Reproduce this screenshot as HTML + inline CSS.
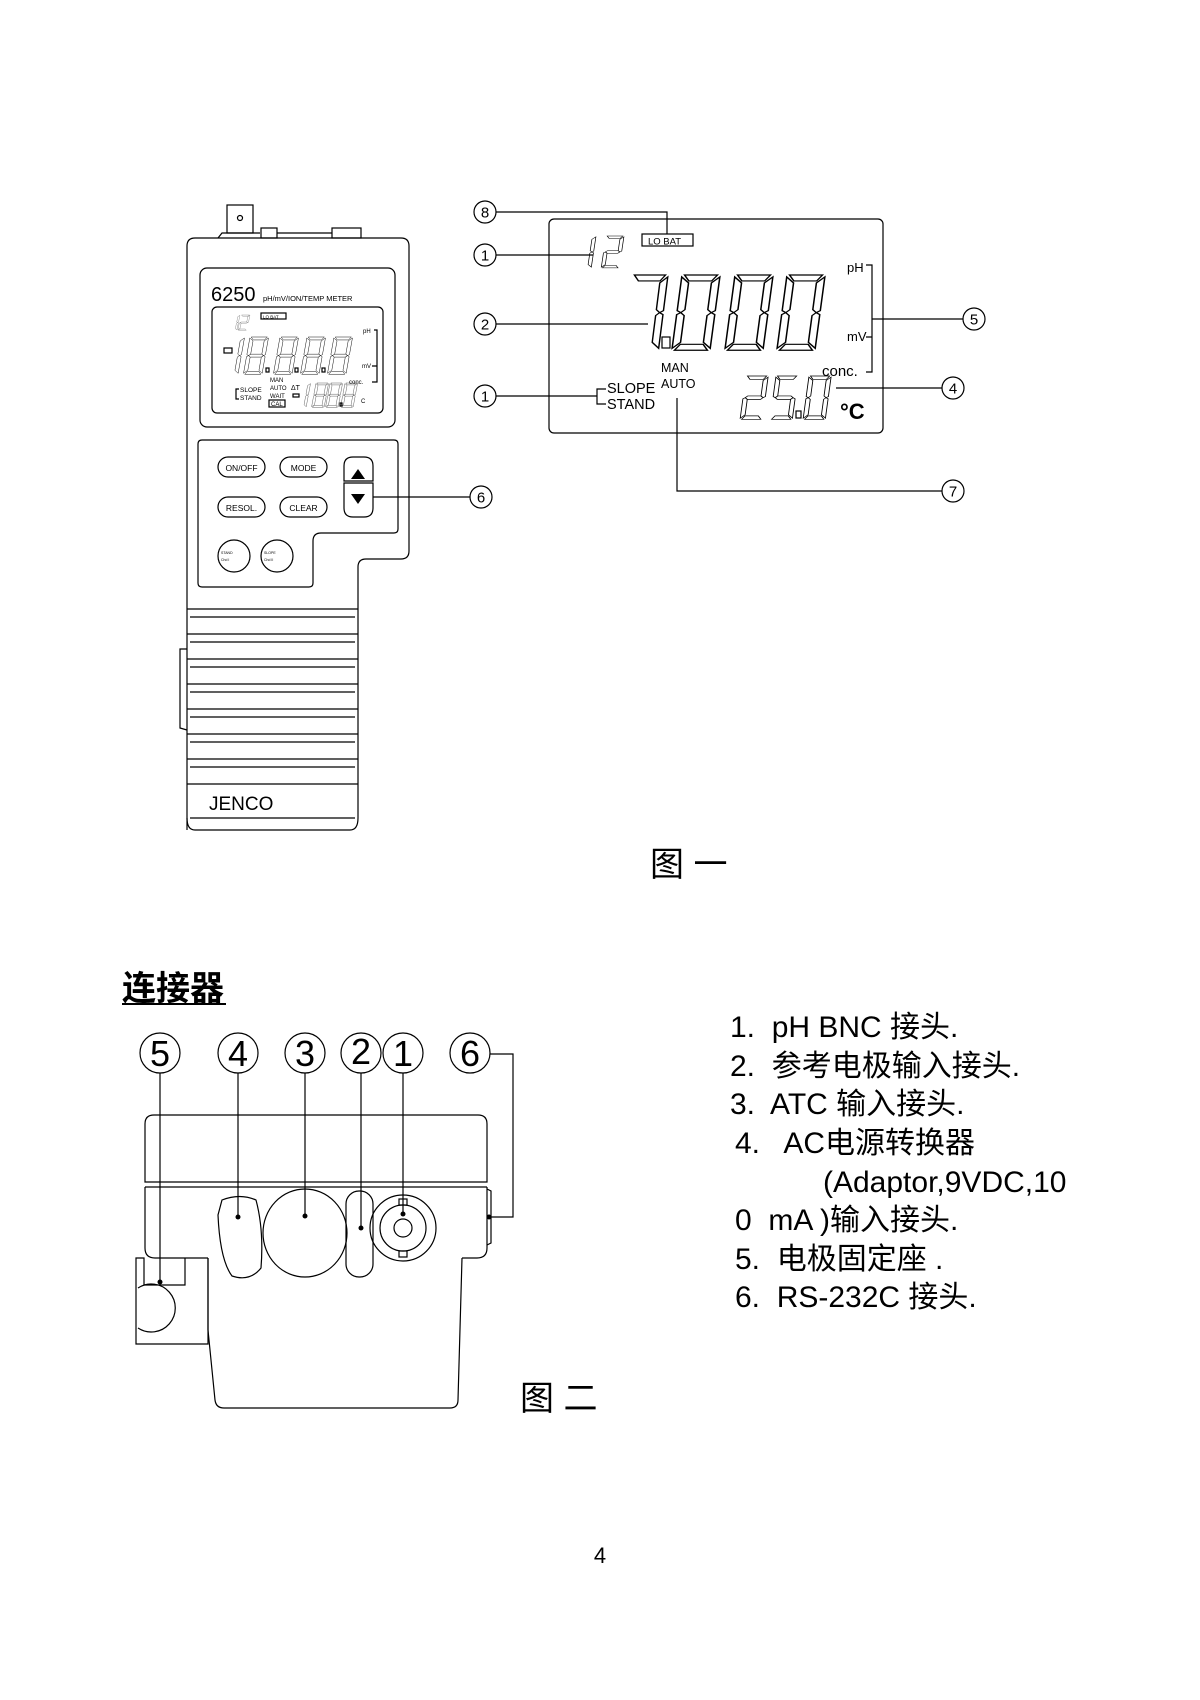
<!DOCTYPE html>
<html><head><meta charset="utf-8"><style>
html,body{margin:0;padding:0;background:#fff}
svg{display:block}
text{font-family:"Liberation Sans","Noto Sans CJK SC",sans-serif;fill:#000}
</style></head><body>
<svg width="1200" height="1700" viewBox="0 0 1200 1700" xmlns="http://www.w3.org/2000/svg">
<defs>
<g id="sa"><polygon points="2,0 28,0 24,6 6,6"/></g>
<g id="sb"><polygon points="30,2 30,36 27,38 24,35 24,8"/></g>
<g id="sc"><polygon points="30,40 30,74 24,68 24,41 27,38"/></g>
<g id="sd"><polygon points="6,70 24,70 28,76 2,76"/></g>
<g id="se"><polygon points="0,40 3,38 6,41 6,68 0,74"/></g>
<g id="sf"><polygon points="0,2 6,8 6,35 3,38 0,36"/></g>
<g id="sg"><polygon points="6,35 24,35 27,38 24,41 6,41 3,38"/></g>
<g id="D0"><use href="#sa"/><use href="#sb"/><use href="#sc"/><use href="#sd"/><use href="#se"/><use href="#sf"/></g>
<g id="D1"><use href="#sb"/><use href="#sc"/></g>
<g id="D2"><use href="#sa"/><use href="#sb"/><use href="#sg"/><use href="#se"/><use href="#sd"/></g>
<g id="D5"><use href="#sa"/><use href="#sf"/><use href="#sg"/><use href="#sc"/><use href="#sd"/></g>
<g id="D7"><use href="#sa"/><use href="#sb"/><use href="#sc"/></g>
<g id="D8"><use href="#D0"/><use href="#sg"/></g>
</defs>

<g fill="none" stroke="#000" stroke-width="1.2">
<!-- DEVICE fig 1 -->
<rect x="227" y="205" width="26" height="28"/>
<circle cx="240" cy="218" r="2.5"/>
<path d="M218,238 L222,233 L260,233"/>
<rect x="261" y="228" width="16" height="10"/>
<path d="M277,233 L332,233"/>
<rect x="332" y="228" width="29" height="10"/>
<path d="M187,830 L187,246 Q187,238 195,238 L401,238 Q409,238 409,246 L409,551 Q409,559 401,559 L366,559 Q358,559 358,567 L358,609"/>
<rect x="200" y="268" width="195" height="159" rx="7"/>
<rect x="212" y="307" width="171" height="106" rx="5"/>
<path d="M198,444 Q198,440 202,440 L394,440 Q398,440 398,444 L398,529 Q398,533 394,533 L321,533 Q313,533 313,541 L313,583 Q313,587 309,587 L202,587 Q198,587 198,583 Z"/>
<rect x="218" y="457" width="47" height="20" rx="10"/>
<rect x="280" y="457" width="47" height="20" rx="10"/>
<rect x="218" y="497" width="47" height="20" rx="10"/>
<rect x="280" y="497" width="47" height="20" rx="10"/>
<path d="M344,481 L344,466 Q344,457 353,457 L364,457 Q373,457 373,466 L373,481 Z"/>
<path d="M344,483 L373,483 L373,508 Q373,517 364,517 L353,517 Q344,517 344,508 Z"/>
<circle cx="234" cy="556" r="16"/>
<circle cx="277" cy="556" r="16"/>
<!-- ribs -->
<path d="M187,609 L358,609 M190,617 L355,617 M187,634 L358,634 M190,642 L355,642 M187,659 L358,659 M190,667 L355,667 M187,684 L358,684 M190,692 L355,692 M187,709 L358,709 M190,717 L355,717 M187,734 L358,734 M190,742 L355,742 M187,759 L358,759 M190,767 L355,767 M187,784 L358,784 M190,818 L355,818"/>
<path d="M358,609 L358,818 Q358,830 350,830 L195,830 Q187,830 187,818"/>
<path d="M187,649 L180,649 L180,728 L187,730"/>
<!-- lcd small -->
<rect x="261" y="313" width="25" height="6"/>
<rect x="269" y="400" width="16" height="7"/>
<path d="M374,330 L377,330 L377,382 L372,382 M372,366 L377,366 M239,389 L236,389 L236,399 L239,399"/>
<rect x="224" y="348" width="8" height="5"/>
<rect x="293" y="394" width="6" height="3"/>
<g stroke-width="0.8">
<g transform="translate(231,315) scale(0.3,0.2) skewX(-8)"><use href="#D1"/></g>
<g transform="translate(241,315) scale(0.3,0.2) skewX(-8)"><use href="#D2"/></g>
<g transform="translate(226,337) scale(0.62,0.49) skewX(-8)"><use href="#D1"/></g>
<g transform="translate(250,337) scale(0.62,0.49) skewX(-8)"><use href="#D8"/></g>
<g transform="translate(280,337) scale(0.62,0.49) skewX(-8)"><use href="#D8"/></g>
<g transform="translate(307,337) scale(0.62,0.49) skewX(-8)"><use href="#D8"/></g>
<g transform="translate(334,337) scale(0.62,0.49) skewX(-8)"><use href="#D8"/></g>
<g transform="translate(298,383) scale(0.42,0.32) skewX(-8)"><use href="#D1"/></g>
<g transform="translate(316,383) scale(0.42,0.32) skewX(-8)"><use href="#D8"/></g>
<g transform="translate(330,383) scale(0.42,0.32) skewX(-8)"><use href="#D8"/></g>
<g transform="translate(345,383) scale(0.42,0.32) skewX(-8)"><use href="#D8"/></g>
</g>
<rect x="266" y="368" width="3" height="4"/><rect x="295" y="368" width="3" height="4"/><rect x="322" y="368" width="3" height="4"/><rect x="340" y="403" width="2" height="3"/>
<!-- connector line 6 -->
<path d="M373,497 L470,497"/>
<circle cx="481" cy="497" r="11"/>

<!-- RIGHT LCD -->
<rect x="549" y="219" width="334" height="214" rx="5"/>
<rect x="642" y="234" width="51" height="12"/>
<path d="M496,212 L667,212 L667,234"/>
<path d="M496,255 L593,255"/>
<path d="M496,324 L648,324"/>
<path d="M496,396 L597,396 M606,389 L597,389 L597,404 L606,404"/>
<path d="M866,265 L872,265 L872,372 L866,372 M866,337 L872,337 M872,319 L963,319"/>
<path d="M836,388 L942,388"/>
<path d="M677,398 L677,491 L942,491"/>
<circle cx="485" cy="212" r="11"/>
<circle cx="485" cy="255" r="11"/>
<circle cx="485" cy="324" r="11"/>
<circle cx="485" cy="396" r="11"/>
<circle cx="974" cy="319" r="11"/>
<circle cx="953" cy="388" r="11"/>
<circle cx="953" cy="491" r="11"/>
<g>
<g transform="translate(578,236) scale(0.6,0.42) skewX(-6)"><use href="#D1"/></g>
<g transform="translate(606,236) scale(0.6,0.42) skewX(-6)"><use href="#D2"/></g>
<g transform="translate(632,275) scale(1.2,0.99) skewX(-6)"><use href="#D7"/></g>
<g transform="translate(682,275) scale(1.27,0.99) skewX(-6)"><use href="#D0"/></g>
<g transform="translate(735,275) scale(1.27,0.99) skewX(-6)"><use href="#D0"/></g>
<g transform="translate(787,275) scale(1.27,0.99) skewX(-6)"><use href="#D0"/></g>
<g transform="translate(746,376) scale(0.74,0.57) skewX(-6)"><use href="#D2"/></g>
<g transform="translate(776,376) scale(0.74,0.57) skewX(-6)"><use href="#D5"/></g>
<g transform="translate(809,376) scale(0.74,0.57) skewX(-6)"><use href="#D0"/></g>
</g>
<rect x="662" y="337" width="8" height="11"/>
<rect x="796" y="411" width="5" height="7"/>

<!-- FIG 2 -->
<path d="M145,1182 L145,1124 Q145,1115 154,1115 L478,1115 Q487,1115 487,1124 L487,1182 Z"/>
<path d="M145,1187 L487,1187"/>
<path d="M145,1187 L145,1248 Q145,1258 155,1258 L208,1258 M487,1187 L487,1248 Q487,1258 477,1258 L462,1258"/>
<path d="M208,1258 L208,1330 L215,1400 Q216,1408 224,1408 L450,1408 Q458,1408 458,1400 L462,1258"/>
<path d="M487,1189 L491,1191 L491,1243 L487,1245"/>
<path d="M208,1258 L208,1344 L136,1344 L136,1258 L144,1258 L144,1285 L185,1285 L185,1258"/>
<path d="M138,1288 A24,24 0 1 1 138,1328"/>
<path d="M222,1200 Q240,1193 256,1200 Q264,1230 261,1268 Q250,1282 232,1276 Q220,1260 218,1215 Z"/>
<ellipse cx="305" cy="1233" rx="42" ry="44"/>
<rect x="346" y="1191" width="27" height="86" rx="13"/>
<circle cx="403" cy="1228" r="33"/>
<circle cx="403" cy="1228" r="23"/>
<circle cx="403" cy="1228" r="9"/>
<rect x="399" y="1199" width="8" height="6"/>
<rect x="399" y="1251" width="8" height="6"/>
<path d="M160,1073 L160,1282 M238,1073 L238,1217 M305,1073 L305,1216 M361,1073 L361,1228 M403,1073 L403,1214 M490,1054 L513,1054 L513,1217 L489,1217"/>
<circle cx="160" cy="1053" r="20"/>
<circle cx="238" cy="1053" r="20"/>
<circle cx="305" cy="1053" r="20"/>
<circle cx="361" cy="1053" r="20"/>
<circle cx="403" cy="1053" r="20"/>
<circle cx="470" cy="1053" r="20"/>
<path d="M122,1004 L226,1004" stroke-width="2"/>
</g>
<g fill="#000">
<circle cx="160" cy="1282" r="2.5"/><circle cx="238" cy="1217" r="2.5"/><circle cx="305" cy="1216" r="2.5"/><circle cx="361" cy="1228" r="2.5"/><circle cx="403" cy="1214" r="2.5"/><circle cx="489" cy="1217" r="2.5"/>
<path d="M351,479 L358,469 L365,479 Z"/><path d="M351,494 L365,494 L358,504 Z"/>
</g>

<!-- texts fig 1 device -->
<text x="211" y="301" font-size="20">6250</text>
<text x="263" y="301" font-size="7.5">pH/mV/ION/TEMP METER</text>
<text x="263" y="318.5" font-size="4.5">LO BAT</text>
<text x="363" y="333" font-size="6">pH</text>
<text x="362" y="368" font-size="6">mV</text>
<text x="349" y="384" font-size="6">conc.</text>
<text x="240" y="392" font-size="6.5">SLOPE</text>
<text x="240" y="400" font-size="6.5">STAND</text>
<text x="270" y="382" font-size="6">MAN</text>
<text x="270" y="390" font-size="6">AUTO</text>
<text x="270" y="398" font-size="6">WAIT</text>
<text x="271" y="406" font-size="6">CAL</text>
<text x="291" y="390" font-size="7">ΔT</text>
<text x="361" y="403" font-size="6">C</text>
<text x="241.5" y="471" font-size="8.5" text-anchor="middle">ON/OFF</text>
<text x="303.5" y="471" font-size="8.5" text-anchor="middle">MODE</text>
<text x="241.5" y="511" font-size="8.5" text-anchor="middle">RESOL.</text>
<text x="303.5" y="511" font-size="8.5" text-anchor="middle">CLEAR</text>
<text x="221" y="554" font-size="3.5">STAND</text><text x="221" y="561" font-size="3.5">Chd I</text>
<text x="264" y="554" font-size="3.5">SLOPE</text><text x="264" y="561" font-size="3.5">Chd II</text>
<text x="209" y="810" font-size="19">JENCO</text>
<!-- right LCD texts -->
<text x="648" y="244.5" font-size="9.5">LO BAT</text>
<text x="607" y="393" font-size="14.5">SLOPE</text>
<text x="607" y="409" font-size="14.5">STAND</text>
<text x="661" y="372" font-size="12.5">MAN</text>
<text x="661" y="388" font-size="12.5">AUTO</text>
<text x="847" y="272" font-size="13">pH</text>
<text x="847" y="341" font-size="13">mV</text>
<text x="822" y="376" font-size="15">conc.</text>
<text x="840" y="419" font-size="22" font-weight="bold">°C</text>
<g font-size="15" text-anchor="middle">
<text x="485" y="217.5">8</text><text x="485" y="260.5">1</text><text x="485" y="329.5">2</text><text x="485" y="401.5">1</text>
<text x="974" y="324.5">5</text><text x="953" y="393.5">4</text><text x="953" y="496.5">7</text><text x="481" y="502.5">6</text>
</g>
<text x="650" y="876" font-size="34">图 一</text>
<!-- fig 2 texts -->
<text x="122" y="1000" font-size="34" font-weight="bold">连接器</text>
<g font-size="36" text-anchor="middle">
<text x="160" y="1066">5</text><text x="238" y="1066">4</text><text x="305" y="1066">3</text><text x="361" y="1064">2</text><text x="403" y="1066">1</text><text x="470" y="1066">6</text>
</g>
<text x="520" y="1410" font-size="34">图 二</text>
<g font-size="30">
<text x="730" y="1037">1.&#160; pH BNC 接头.</text>
<text x="730" y="1076">2.&#160; 参考电极输入接头.</text>
<text x="730" y="1114">3.&#160; ATC 输入接头.</text>
<text x="735" y="1153">4.&#160;&#160; AC电源转换器</text>
<text x="823" y="1192">(Adaptor,9VDC,10</text>
<text x="735" y="1230">0&#160; mA )输入接头.</text>
<text x="735" y="1269">5.&#160; 电极固定座 .</text>
<text x="735" y="1307">6.&#160; RS-232C 接头.</text>
</g>
<text x="600" y="1563" font-size="22" text-anchor="middle">4</text>
</svg>
</body></html>
